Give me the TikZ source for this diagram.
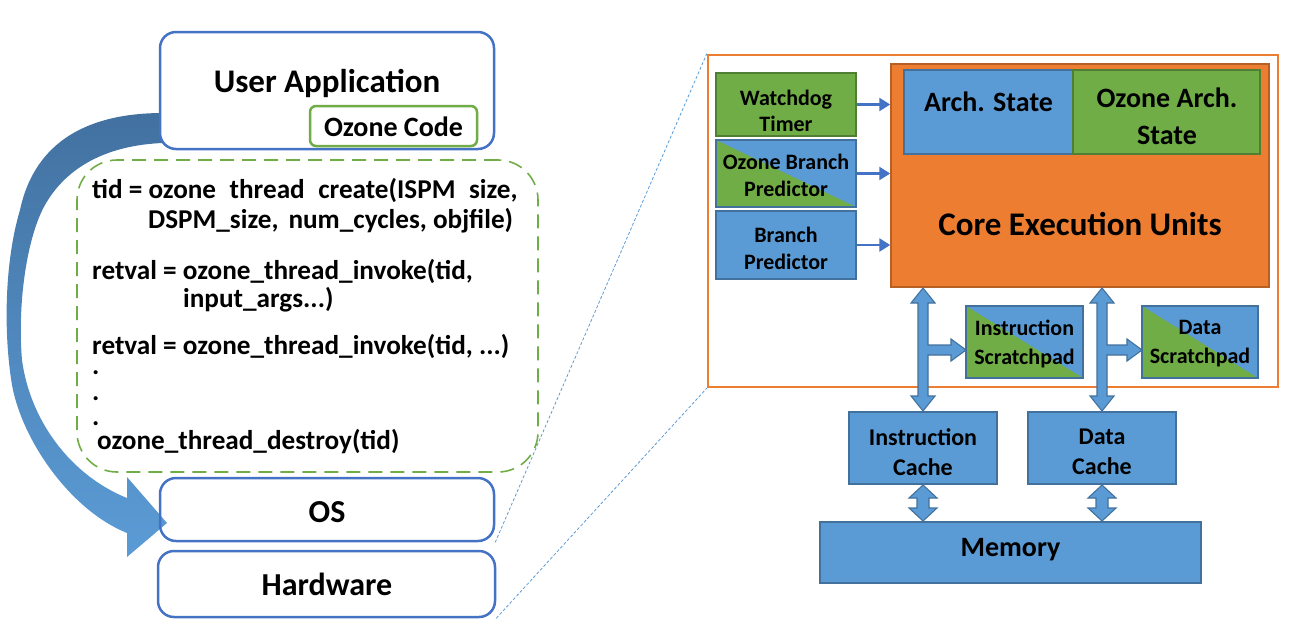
\documentclass[tikz,border=0pt]{standalone}
\usepackage{fontspec}
\setmainfont{Carlito}
\usetikzlibrary{arrows.meta,calc}
\definecolor{ublue}{HTML}{4472C4}
\definecolor{bfill}{HTML}{5B9BD5}
\definecolor{bdraw}{HTML}{41719C}
\definecolor{gfill}{HTML}{70AD47}
\definecolor{gdraw}{HTML}{507E32}
\definecolor{ofill}{HTML}{ED7D31}
\definecolor{odraw}{HTML}{B85F24}
\definecolor{darkarrow}{RGB}{66,113,160}
\newcommand{\fs}[2]{\fontsize{#1}{#2}\selectfont}
\begin{document}
\begin{tikzpicture}[x=1pt,y=-1pt,font=\bfseries,
  ubox/.style={draw=ublue,line width=2.5,rounded corners=16,inner sep=0,fill=white},
  bbox/.style={fill=bfill,draw=bdraw,line width=1.3,inner sep=0},
  gbox/.style={fill=gfill,draw=gdraw,line width=1.3,inner sep=0},
  splitbox/.style={bbox,path picture={\fill[gfill] (path picture bounding box.north west) -- (path picture bounding box.south east) -- (path picture bounding box.south west) -- cycle;}},
  txt/.style={inner sep=0,align=center},
  sarrow/.style={draw=ublue,line width=2.5,-{Triangle[length=11,width=13]}},
  blockarrow/.style={fill=bfill,draw=bdraw,line width=1.1,line join=miter},
  dotline/.style={draw=bfill,line width=0.8,dash pattern=on 3 off 2}]
\useasboundingbox (0,0) rectangle (1301,627);

% ---------- left part ----------
\path[top color=darkarrow,bottom color=bfill,middle color=darkarrow!45!bfill,draw=none]
  (163,113) .. controls (90,113) and (35,140) .. (20,210)
  .. controls (5,260) and (3,330) .. (12,385)
  .. controls (22,440) and (70,510) .. (127,533)
  -- (127,557) -- (167,523) -- (127,477) -- (127,498)
  .. controls (70,475) and (30,420) .. (22,360)
  .. controls (17,300) and (28,230) .. (48,200)
  .. controls (70,165) and (110,145) .. (163,143) -- cycle;

\node[ubox,minimum width=334,minimum height=117] (ua) at (327,90.5) {};
\node[txt,font=\bfseries\fs{33}{36}] (uat) at (327,83) {User Application};
\node[draw=gfill,line width=2.5,rounded corners=6,inner sep=0,minimum width=167,minimum height=40] (oz) at (393.5,126) {};
\node[txt,font=\bfseries\fs{28}{30}] (ozt) at (393.5,127) {Ozone Code};

\node[draw=gfill,line width=1.6,dash pattern=on 14 off 8,rounded corners=40,inner sep=0,minimum width=461,minimum height=312] (code) at (307.5,316) {};

\begin{scope}[every node/.style={inner sep=0,font=\bfseries\fs{27.2}{30}}]
\node[anchor=base west] (c1) at (92,198) {tid = ozone\hspace{13.5pt}thread\hspace{13.5pt}create(ISPM\hspace{13.5pt}size,};
\node[anchor=base west] (c2) at (148,228) {DSPM\_size,\hspace{10pt}num\_cycles, objfile)};
\node[anchor=base west] (c3) at (92,279) {retval = ozone\_thread\_invoke(tid,};
\node[anchor=base west] (c4) at (183,307) {input\_args...)};
\node[anchor=base west] (c5) at (92,354) {retval = ozone\_thread\_invoke(tid, ...)};
\node[anchor=base west,text height=4pt,text depth=0pt] (d1) at (92,374) {.};
\node[anchor=base west,text height=4pt,text depth=0pt] (d2) at (92,400) {.};
\node[anchor=base west,text height=4pt,text depth=0pt] (d3) at (92,425) {.};
\node[anchor=base west] (c6) at (97,449) {ozone\_thread\_destroy(tid)};
\end{scope}

\node[ubox,fill=none,minimum width=334,minimum height=63] (os) at (327,509.5) {};
\node[txt,font=\bfseries\fs{32}{36}] (ost) at (327,512) {OS};
\node[ubox,minimum width=337,minimum height=66] (hw) at (326.5,584) {};
\node[txt,font=\bfseries\fs{32}{36}] (hwt) at (327,584) {Hardware};

% ---------- right part ----------
\node[draw=ofill,line width=2.5,inner sep=0,minimum width=570,minimum height=332] (outer) at (993,221) {};
\draw[dotline] (os.south east) -- (outer.north west);
\draw[dotline] (hw.south east) -- (outer.south west);

\node[fill=ofill,draw=odraw,line width=1.5,inner sep=0,minimum width=378,minimum height=223] (core) at (1080,175.5) {};
\node[bbox,minimum width=169,minimum height=84] (arch) at (988.5,112) {};
\node[gbox,minimum width=187,minimum height=84] (oarch) at (1166.5,112) {};
\node[txt,font=\bfseries\fs{28}{37}] (archt) at (988.5,102) {Arch. State};
\node[txt,font=\bfseries\fs{28}{37}] (oarcht) at (1167,116) {Ozone Arch.\\State};
\node[txt,font=\bfseries\fs{33}{36}] (coret) at (1080,224) {Core Execution Units};

\node[gbox,minimum width=140,minimum height=63] (wd) at (786,104.5) {};
\node[txt,font=\bfseries\fs{22}{26}] (wdt) at (786,111) {Watchdog\\Timer};
\node[splitbox,minimum width=140,minimum height=67] (obp) at (786,173.5) {};
\node[txt,font=\bfseries\fs{22}{27}] (obpt) at (786,175.5) {Ozone Branch\\Predictor};
\node[bbox,minimum width=140,minimum height=68] (bp) at (786,245) {};
\node[txt,font=\bfseries\fs{22}{27}] (bpt) at (786,248.5) {Branch\\Predictor};

\draw[sarrow] (wd.east) -- (wd.east -| core.west);
\draw[sarrow] (obp.east) -- (obp.east -| core.west);
\draw[sarrow] (bp.east) -- (bp.east -| core.west);

\node[splitbox,minimum width=117,minimum height=72] (isp) at (1024.5,342) {};
\node[txt,font=\bfseries\fs{22}{29}] (ispt) at (1024.5,343.5) {Instruction\\Scratchpad};
\node[splitbox,minimum width=116,minimum height=72] (dsp) at (1200,342) {};
\node[txt,font=\bfseries\fs{22}{29}] (dspt) at (1200,343.5) {Data\\Scratchpad};

\node[bbox,minimum width=148,minimum height=72] (ic) at (923,448) {};
\node[txt,font=\bfseries\fs{24}{30}] (ict) at (923,452) {Instruction\\Cache};
\node[bbox,minimum width=148,minimum height=72] (dc) at (1102,448) {};
\node[txt,font=\bfseries\fs{24}{30}] (dct) at (1102,452) {Data\\Cache};
\node[bbox,minimum width=381,minimum height=61] (mem) at (1010.5,552.5) {};
\node[txt,font=\bfseries\fs{28}{32}] (memt) at (1010.5,550) {Memory};

% block arrows
\draw[blockarrow] (923,288) -- (935,303) -- (928,303) -- (928,345) -- (951,345) -- (951,339) -- (966,350) -- (951,361) -- (951,355) -- (928,355) -- (928,396) -- (935,396) -- (923,411) -- (911,396) -- (918,396) -- (918,303) -- (911,303) -- cycle;
\draw[blockarrow] (1102,288) -- (1114,303) -- (1107,303) -- (1107,345) -- (1127,345) -- (1127,339) -- (1142,350) -- (1127,361) -- (1127,355) -- (1107,355) -- (1107,396) -- (1114,396) -- (1102,411) -- (1090,396) -- (1097,396) -- (1097,303) -- (1090,303) -- cycle;
\draw[blockarrow] (923,485) -- (937,498) -- (929,498) -- (929,508) -- (937,508) -- (923,521) -- (909,508) -- (917,508) -- (917,498) -- (909,498) -- cycle;
\draw[blockarrow] (1102,485) -- (1116,498) -- (1108,498) -- (1108,508) -- (1116,508) -- (1102,521) -- (1088,508) -- (1096,508) -- (1096,498) -- (1088,498) -- cycle;
\end{tikzpicture}
\end{document}
